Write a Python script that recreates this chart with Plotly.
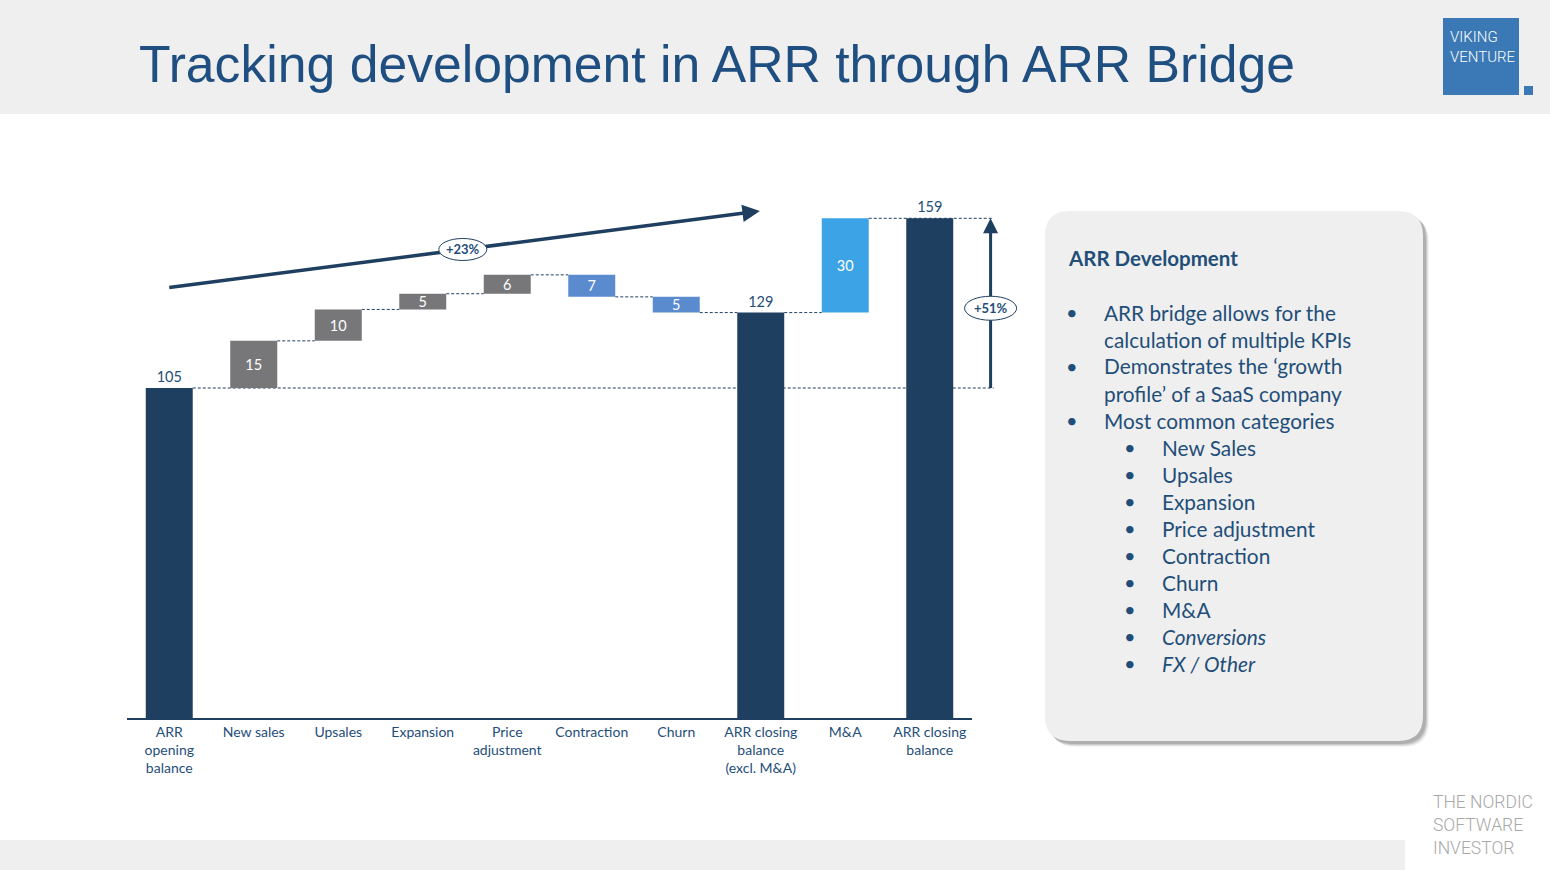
import plotly.graph_objects as go

# ---- data ----
categories = ["ARR<br>opening<br>balance", "New sales", "Upsales", "Expansion", "Price<br>adjustment",
              "Contraction", "Churn", "ARR closing<br>balance<br>(excl. M&A)", "M&A", "ARR closing<br>balance"]
measures = ["absolute", "relative", "relative", "relative", "relative",
            "relative", "relative", "total", "relative", "total"]
values = [105, 15, 10, 5, 6, -7, -5, 129, 30, 159]
bar_kinds = ["total", "up", "up", "up", "up", "down", "down", "total", "ma", "total"]

growth_excl_ma = "+23%"
growth_total = "+51%"

panel_title = "ARR Development"
panel_lines = [
    ("•", "ARR bridge allows for the"),
    ("", "calculation of multiple KPIs"),
    ("•", "Demonstrates the ‘growth"),
    ("", "profile’ of a SaaS company"),
    ("•", "Most common categories"),
]
panel_sub = ["New Sales", "Upsales", "Expansion", "Price adjustment", "Contraction",
             "Churn", "M&A", "<i>Conversions</i>", "<i>FX / Other</i>"]

# ---- style ----
W, H = 1550, 870
NAVY = "#1F3F61"
TXT = "#1F4E79"
COLORS = {"total": NAVY, "up": "#77777A", "down": "#5B8BCF", "ma": "#3CA4E6"}
FONT = "Lato, 'Open Sans', sans-serif"
COND = "Roboto, sans-serif"
BG = "#EFEFEF"

X_LEFT, X_RIGHT = 127, 972      # plot area in pixels
Y_BASE, Y_TOP = 718, 160
YMAX = 177.55
N = len(categories)
BAR_W = 0.556
STEP = (X_RIGHT - X_LEFT) / N


def px(x):
    return x / W


def py(y):
    return 1 - y / H


def cat_px(c):
    return X_LEFT + (c + 0.5) * STEP


def val_py(v):
    return Y_BASE - v * (Y_BASE - Y_TOP) / YMAX


# ---- waterfall geometry ----
bases, heights, ends = [], [], []
running = 0
for m, v in zip(measures, values):
    if m == "relative":
        bases.append(running if v >= 0 else running + v)
        heights.append(abs(v))
        running += v
    else:
        running = v
        bases.append(0)
        heights.append(v)
    ends.append(running)

colors = [COLORS[k] for k in bar_kinds]
labels = [str(abs(v)) for v in values]
positions = ["outside" if k == "total" else "inside" for k in bar_kinds]
text_colors = [TXT if k == "total" else "white" for k in bar_kinds]

fig = go.Figure()
fig.add_trace(go.Bar(
    x=list(range(N)), y=heights, base=bases, width=BAR_W,
    marker=dict(color=colors, line_width=0),
    text=labels, textposition=positions, textangle=0,
    textfont=dict(color=text_colors, size=14.5, family=FONT),
    constraintext="none", insidetextanchor="middle", cliponaxis=False,
    hoverinfo="skip",
))

shapes = []
# header / footer bands
shapes.append(dict(type="rect", xref="paper", yref="paper", x0=0, x1=1, y0=py(114), y1=1,
                   fillcolor=BG, line_width=0, layer="below"))
shapes.append(dict(type="rect", xref="paper", yref="paper", x0=0, x1=px(1405), y0=0, y1=py(840),
                   fillcolor=BG, line_width=0, layer="below"))
# logo
shapes.append(dict(type="rect", xref="paper", yref="paper", x0=px(1443), x1=px(1519), y0=py(95), y1=py(18),
                   fillcolor="#3A79B6", line_width=0))
shapes.append(dict(type="rect", xref="paper", yref="paper", x0=px(1524), x1=px(1533), y0=py(95), y1=py(86),
                   fillcolor="#3A79B6", line_width=0))

DASH = dict(color=NAVY, width=1, dash="3px,2px")
half = BAR_W / 2 * STEP
# connectors between bars
for i in range(1, N - 2):
    shapes.append(dict(type="line", xref="paper", yref="paper",
                       x0=px(cat_px(i) + half), x1=px(cat_px(i + 1) - half),
                       y0=py(val_py(ends[i])), y1=py(val_py(ends[i])), line=DASH, layer="below"))
ARROW_X = cat_px(9.72)
# long reference lines for the opening and closing level
shapes.append(dict(type="line", xref="paper", yref="paper",
                   x0=px(cat_px(0) + half), x1=px(ARROW_X + 3),
                   y0=py(val_py(values[0])), y1=py(val_py(values[0])), line=DASH, layer="below"))
shapes.append(dict(type="line", xref="paper", yref="paper",
                   x0=px(cat_px(8) + half), x1=px(ARROW_X + 3),
                   y0=py(val_py(values[-1])), y1=py(val_py(values[-1])), line=DASH, layer="below"))

annotations = []

# +23% trend arrow
sx, sy = cat_px(0), val_py(137)
ex, ey = cat_px(6.99), val_py(161.3)
dx, dy = ex - sx, ey - sy
L = (dx ** 2 + dy ** 2) ** 0.5
ux, uy = dx / L, dy / L
shapes.append(dict(type="line", xref="paper", yref="paper", x0=px(sx), y0=py(sy),
                   x1=px(ex - 8 * ux), y1=py(ey - 8 * uy), line=dict(color=NAVY, width=3.5)))
annotations.append(dict(x=px(ex), y=py(ey), xref="paper", yref="paper", ax=-18 * ux, ay=-18 * uy,
                        text="", showarrow=True, arrowhead=2, arrowsize=1, arrowwidth=3.5,
                        arrowcolor=NAVY))
cx, cy = sx + 0.497 * dx, sy + 0.497 * dy
shapes.append(dict(type="circle", xref="paper", yref="paper", x0=px(cx - 24), x1=px(cx + 24),
                   y0=py(cy + 11), y1=py(cy - 11), fillcolor="white", line=dict(color=NAVY, width=1)))
annotations.append(dict(x=px(cx), y=py(cy), xref="paper", yref="paper", xanchor="center", yanchor="middle",
                        text="<b>" + growth_excl_ma + "</b>",
                        showarrow=False, font=dict(size=13, color=TXT, family=FONT)))

# +51% vertical arrow
y_lo, y_hi = val_py(values[0]), val_py(values[-1])
shapes.append(dict(type="line", xref="paper", yref="paper", x0=px(ARROW_X), x1=px(ARROW_X),
                   y0=py(y_lo), y1=py(y_hi + 8), line=dict(color=NAVY, width=3)))
annotations.append(dict(x=px(ARROW_X), y=py(y_hi), xref="paper", yref="paper", ax=0, ay=18,
                        text="", showarrow=True, arrowhead=2, arrowsize=1, arrowwidth=3,
                        arrowcolor=NAVY))
my = y_lo + 0.47 * (y_hi - y_lo)
shapes.append(dict(type="circle", xref="paper", yref="paper", x0=px(ARROW_X - 26), x1=px(ARROW_X + 26),
                   y0=py(my + 12), y1=py(my - 12), fillcolor="white", line=dict(color=NAVY, width=1)))
annotations.append(dict(x=px(ARROW_X), y=py(my), xref="paper", yref="paper", xanchor="center", yanchor="middle",
                        text="<b>" + growth_total + "</b>",
                        showarrow=False, font=dict(size=13, color=TXT, family=FONT)))


# right text panel
def rrect(x0, y0, x1, y1, r):
    pts = [("M", x0 + r, y0), ("L", x1 - r, y0), ("Q", x1, y0, x1, y0 + r), ("L", x1, y1 - r),
           ("Q", x1, y1, x1 - r, y1), ("L", x0 + r, y1), ("Q", x0, y1, x0, y1 - r), ("L", x0, y0 + r),
           ("Q", x0, y0, x0 + r, y0)]
    out = []
    for p in pts:
        coords = p[1:]
        s = " ".join(f"{px(coords[k]):.5f},{py(coords[k + 1]):.5f}" for k in range(0, len(coords), 2))
        out.append(p[0] + " " + s)
    return " ".join(out) + " Z"


for off, alpha in [(6, 0.06), (5, 0.10), (4, 0.14), (3, 0.18)]:
    shapes.append(dict(type="path", xref="paper", yref="paper",
                       path=rrect(1045 + off, 211 + off, 1423 + off, 741 + off, 25),
                       fillcolor=f"rgba(60,60,60,{alpha})", line_width=0))
shapes.append(dict(type="path", xref="paper", yref="paper", path=rrect(1045, 211, 1423, 741, 25),
                   fillcolor=BG, line_width=0))


def text_at(x, y, text, size, color=TXT, family=FONT, xanchor="left", yanchor="middle", **kw):
    annotations.append(dict(x=px(x), y=py(y), xref="paper", yref="paper", xanchor=xanchor, yanchor=yanchor,
                            text=text, showarrow=False, font=dict(size=size, color=color, family=family), **kw))


text_at(1066, 258, "<b>" + panel_title + "</b>", 20.5)
y = 312
for bullet, line in panel_lines:
    if bullet:
        text_at(1064, y, bullet, 20)
    text_at(1102, y, line, 20.8)
    y += 27
for line in panel_sub:
    text_at(1122, y, "•", 20)
    text_at(1160, y, line, 20.8)
    y += 27

# title
text_at(137, 64, "Tracking development in ARR through ARR Bridge", 51.7, color="#1F4E80",
        family="'Liberation Sans', Arial, sans-serif")
# logo text
annotations.append(dict(x=px(1448), y=py(26), xref="paper", yref="paper", xanchor="left", yanchor="top",
                        text="VIKING<br>VENTURE", showarrow=False, align="left",
                        font=dict(size=15, color="white", family=COND, weight=300)))
annotations.append(dict(x=px(1431), y=py(790), xref="paper", yref="paper", xanchor="left", yanchor="top",
                        text="THE NORDIC<br>SOFTWARE<br>INVESTOR", showarrow=False, align="left",
                        font=dict(size=17.5, color="#A8A8A8", family=COND, weight=300)))

fig.update_layout(
    width=W, height=H, margin=dict(l=0, r=0, t=0, b=0),
    paper_bgcolor="white", plot_bgcolor="white", showlegend=False,
    xaxis=dict(domain=[px(X_LEFT), px(X_RIGHT)], range=[-0.5, N - 0.5], tickmode="array",
               tickvals=list(range(N)), ticktext=categories, ticks="", showgrid=False, zeroline=False,
               showline=True, linecolor=NAVY, linewidth=1.5,
               tickfont=dict(size=14, color=TXT, family=FONT), fixedrange=True),
    yaxis=dict(domain=[py(Y_BASE), py(Y_TOP)], range=[0, YMAX], visible=False, fixedrange=True),
    shapes=shapes, annotations=annotations,
)

fig.write_html("out.html", config={"displayModeBar": False},
               post_script="document.body.style.margin='0';document.body.style.overflow='hidden';")
